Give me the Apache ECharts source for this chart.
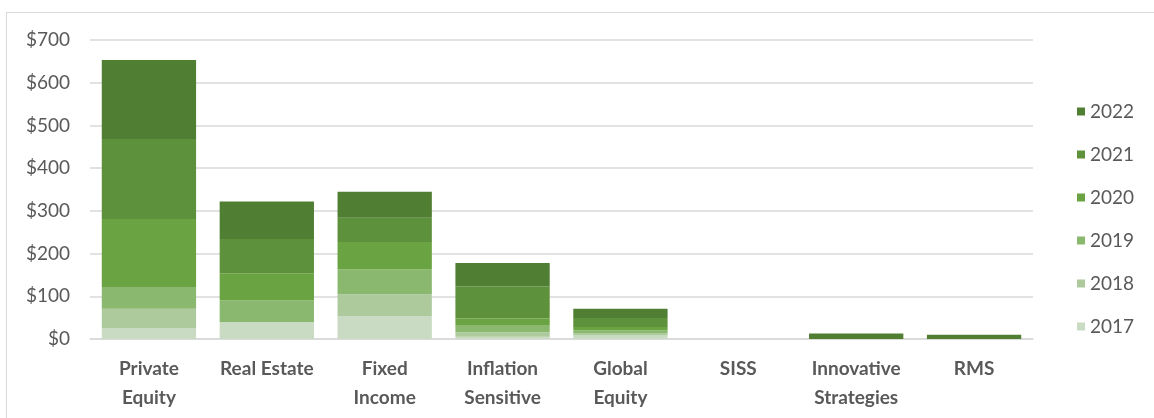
<!DOCTYPE html>
<html>
<head>
<meta charset="utf-8">
<script src="https://cdn.jsdelivr.net/npm/echarts@6/dist/echarts.min.js"></script>
<style>
html,body{margin:0;padding:0;background:#fff;}
#frame{position:absolute;left:6px;top:12px;width:1200px;height:500px;border-left:1.5px solid #d9d9d9;border-top:1.5px solid #d9d9d9;}
#chart{position:absolute;left:0;top:0;width:1154px;height:418px;}
</style>
</head>
<body>
<div id="frame"></div>
<div id="chart"></div>
<script>
const categories = ["Private\nEquity","Real Estate","Fixed\nIncome","Inflation\nSensitive","Global\nEquity","SISS","Innovative\nStrategies","RMS"];
const years = ["2017","2018","2019","2020","2021","2022"];
const v2017 = [26, 40, 54, 5, 8, 0, 0, 0];
const v2018 = [45, 0, 51, 11, 5, 0, 0, 0];
const v2019 = [51, 51, 58, 17, 7, 0, 0, 0];
const v2020 = [159, 63, 64, 15, 8, 0, 0, 0];
const v2021 = [187, 80, 57, 75, 21, 0, 0, 0];
const v2022 = [185, 88, 61, 55, 22, 0, 13, 10];
const yTicks = [0, 100, 200, 300, 400, 500, 600, 700];
const colors = ["#c9dbc3","#adca9d","#8ab86f","#6aa342","#5e913b","#507e32"];

const seriesData = [v2017, v2018, v2019, v2020, v2021, v2022];
const chart = echarts.init(document.getElementById('chart'));
const font = "Lato, 'Open Sans', 'Noto Sans', sans-serif";
chart.setOption({
  animation: false,
  textStyle: {fontFamily: font},
  grid: {left: 90, right: 121, top: 40, bottom: 79, containLabel: false},
  legend: {
    orient: 'vertical',
    left: 1072, top: 97,
    itemGap: 24,
    itemWidth: 8, itemHeight: 8,
    icon: 'rect',
    data: years.slice().reverse(),
    textStyle: {fontSize: 19, color: '#595959', fontFamily: font, padding: [0,0,0,0]}
  },
  xAxis: {
    type: 'category',
    data: categories,
    axisTick: {show: false},
    axisLine: {lineStyle: {color: '#d9d9d9', width: 1.5}},
    axisLabel: {interval: 0, fontSize: 19, fontWeight: 'bold', color: '#595959', lineHeight: 29, margin: 15, fontFamily: font}
  },
  yAxis: {
    type: 'value',
    min: yTicks[0], max: yTicks[yTicks.length-1], interval: 100,
    axisLine: {show: false},
    axisTick: {show: false},
    splitLine: {lineStyle: {color: '#d9d9d9', width: 1.5}},
    axisLabel: {fontSize: 19, color: '#595959', margin: 20, fontFamily: font, formatter: v => '$' + v}
  },
  series: seriesData.map((d, i) => ({
    name: years[i],
    type: 'bar',
    stack: 'total',
    data: d.map(v => v === 0 ? null : v),
    barCategoryGap: '20%',
    itemStyle: {color: colors[i]}
  }))
});
</script>
</body>
</html>
